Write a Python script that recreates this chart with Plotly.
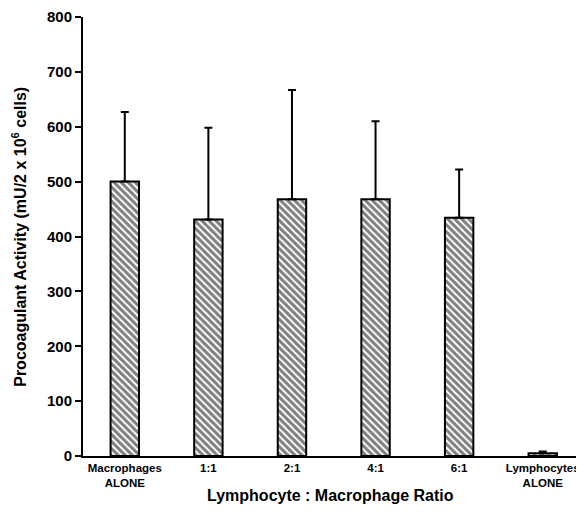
import plotly.graph_objects as go

categories = ["Macrophages<br>ALONE", "1:1", "2:1", "4:1", "6:1", "Lymphocytes<br>ALONE"]
activity = [500, 431, 468, 468, 434, 5]
error_plus = [127, 167, 199, 142, 88, 3]
y_ticks = [0, 100, 200, 300, 400, 500, 600, 700, 800]

FONT = "Liberation Sans, Arial, sans-serif"

fig = go.Figure()
fig.add_trace(go.Bar(
    x=categories,
    y=activity,
    width=0.34,
    marker=dict(
        color="white",
        line=dict(color="black", width=2),
        pattern=dict(shape="\\", size=5, solidity=0.6, fgcolor="black", bgcolor="white"),
    ),
    error_y=dict(type="data", symmetric=False, array=error_plus,
                 arrayminus=[0] * len(error_plus),
                 color="black", thickness=2, width=4),
    showlegend=False,
))

# page body has an 8px margin, so the figure is offset by 8px
fig.update_layout(
    width=576, height=508,
    margin=dict(l=75, r=7, t=9, b=60),
    paper_bgcolor="white", plot_bgcolor="white",
    font=dict(family=FONT, color="black"),
    xaxis=dict(
        type="category",
        range=[-0.5, 5.41],
        automargin=False,
        showline=True, linecolor="black", linewidth=2,
        ticks="", showgrid=False, zeroline=False,
        tickfont=dict(size=11.5, family=FONT, weight="bold"),
    ),
    yaxis=dict(
        range=[0, 800],
        tickvals=y_ticks,
        automargin=False,
        showline=True, linecolor="black", linewidth=2,
        ticks="outside", ticklen=6, tickwidth=2, tickcolor="black",
        showgrid=False, zeroline=False,
        tickfont=dict(size=15, family=FONT, weight="bold"),
    ),
    annotations=[
        dict(text="<b>Lymphocyte : Macrophage Ratio</b>", xref="paper", yref="paper",
             x=0.5, y=-0.091, xanchor="center", yanchor="middle", showarrow=False,
             font=dict(size=16, family=FONT)),
        dict(text="<b>Procoagulant Activity (mU/2 x 10<sup>6</sup> cells)</b>",
             xref="paper", yref="paper", x=-0.131, y=0.5, textangle=-90,
             xanchor="center", yanchor="middle", showarrow=False,
             font=dict(size=16, family=FONT)),
    ],
)

fig.write_html("out.html")
